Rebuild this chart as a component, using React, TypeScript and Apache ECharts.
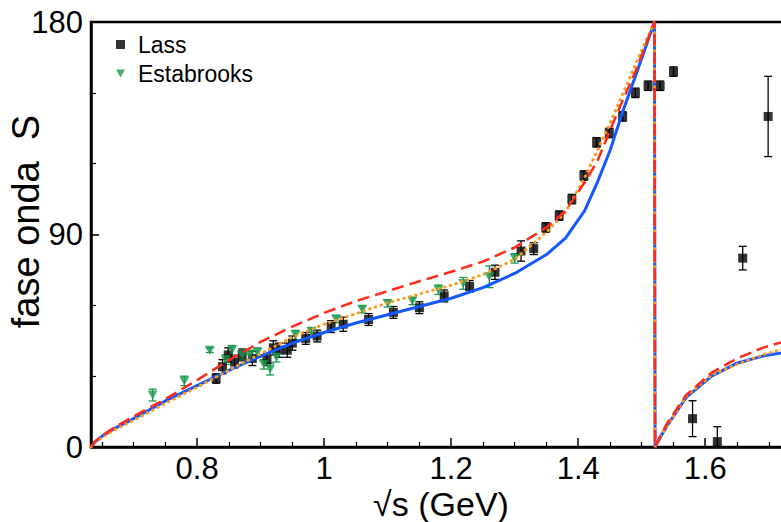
import React, { useEffect, useRef } from "react";
import * as echarts from "echarts";

// Model curves (shared x grid)
const curveX = [0.633, 0.64, 0.65, 0.67, 0.7, 0.75, 0.8, 0.85, 0.9, 0.95, 1.0, 1.05, 1.1, 1.15, 1.2, 1.25, 1.3, 1.35, 1.38, 1.41, 1.43, 1.45, 1.47, 1.49, 1.505, 1.52, 1.521, 1.53, 1.54, 1.57, 1.61, 1.65, 1.69, 1.735];
const blueY = [0, 2.3, 4.5, 7.8, 12, 19.5, 26, 32.5, 38.5, 44, 48.5, 52.5, 56, 59.5, 63, 67.5, 73.5, 81.5, 88.5, 100, 112, 125.5, 142, 157, 168.5, 180, 0, 4.5, 9, 21, 30, 35.5, 38.5, 40.5];
const orangeY = [0, 2, 4, 7.2, 11.3, 18.5, 25.3, 32.5, 39.5, 46.5, 52, 56.5, 61, 64.8, 68.5, 73, 79.5, 91, 99.5, 114, 125.5, 137, 149.5, 162, 171, 180, 0, 4.5, 9, 21.5, 30.5, 35, 39, 42.5];
const redY = [0, 2.5, 4.8, 8.3, 13, 20.3, 28.3, 36.8, 44.5, 51, 56.8, 61.8, 66, 70.2, 74.2, 78.5, 84.5, 93, 100, 112, 121, 134, 146.8, 159, 169.5, 180, 0, 5, 10, 22, 31.5, 37.5, 42, 45.5];

// LASS data
const lassX = [0.83, 0.84, 0.849, 0.859, 0.871, 0.887, 0.91, 0.92, 0.929, 0.942, 0.95, 0.971, 0.989, 1.011, 1.03, 1.07, 1.109, 1.15, 1.189, 1.229, 1.269, 1.31, 1.33, 1.349, 1.37, 1.39, 1.409, 1.429, 1.449, 1.47, 1.49, 1.51, 1.529, 1.55, 1.58, 1.619, 1.659, 1.699];
const lassY = [29, 34, 39, 36, 39, 37.5, 37, 42, 41, 41, 44, 46, 47, 51, 52, 54, 57, 59, 64, 68, 74, 83, 84, 93, 98, 105, 115, 129, 133, 140, 150, 153, 153, 159, 12, 2.3, 80, 140];
const lassErr = [2, 3, 3, 2.5, 2.5, 3, 2.5, 3, 3, 3, 3, 2.5, 2.5, 2.5, 3, 2.5, 2.5, 2.5, 2.5, 2.5, 3, 4.3, 2.5, 2, 2, 2, 2, 2, 2, 2, 2, 2, 2, 2, 7.6, 6.3, 5, 17];

// Estabrooks data
const estX = [0.73, 0.78, 0.82, 0.845, 0.855, 0.871, 0.883, 0.895, 0.905, 0.915, 0.925, 0.955, 0.98, 1.019, 1.06, 1.1, 1.139, 1.18, 1.219, 1.26, 1.3];
const estY = [22, 28, 41, 37, 41, 39, 39, 40, 35, 33, 38, 47.4, 49, 54.2, 58.3, 60.8, 61.8, 66.6, 69.3, 72.1, 79.9];
const estErr = [2.5, 2, 1, 2, 2, 2, 2, 2, 2, 2.5, 2, 2, 1.5, 1.5, 1.5, 1.5, 1.5, 2, 2.5, 4.6, 2];

// Axis ticks
const xLabelValues = [0.8, 1, 1.2, 1.4, 1.6];
const xMinorValues = [0.65, 0.7, 0.75, 0.85, 0.9, 0.95, 1.05, 1.1, 1.15, 1.25, 1.3, 1.35, 1.45, 1.5, 1.55, 1.65, 1.7];

const FONT = "'Liberation Sans', Arial, Helvetica, sans-serif";
const TRI = "path://M0,0L10,0L5,8.66Z";

function errorBars(xs: number[], ys: number[], es: number[], color: string, z: number) {
  return {
    type: "custom",
    z,
    clip: true,
    silent: true,
    data: xs.map((x, i) => [x, ys[i], es[i]]),
    encode: { x: 0, y: 1 },
    renderItem: (params: any, api: any) => {
      const x = api.value(0);
      const y = api.value(1);
      const e = api.value(2);
      const top = api.coord([x, y + e]);
      const bot = api.coord([x, y - e]);
      const w = 4;
      const style = { stroke: color, lineWidth: 1.3 };
      return {
        type: "group",
        children: [
          { type: "line", shape: { x1: top[0], y1: top[1], x2: bot[0], y2: bot[1] }, style },
          { type: "line", shape: { x1: top[0] - w, y1: top[1], x2: top[0] + w, y2: top[1] }, style },
          { type: "line", shape: { x1: bot[0] - w, y1: bot[1], x2: bot[0] + w, y2: bot[1] }, style },
        ],
      };
    },
  };
}

export default function App() {
  const ref = useRef<HTMLDivElement>(null);
  useEffect(() => {
    const chart = echarts.init(ref.current!, null, { renderer: "svg" });
    const lineOf = (ys: number[]) => curveX.map((x, i) => [x, ys[i]]);
    const option: any = {
      animation: false,
      backgroundColor: "#fff",
      grid: {
        left: 91,
        right: -10,
        top: 22,
        bottom: 75,
        containLabel: false,
        outerBoundsMode: "none",
        show: true,
        borderColor: "#000",
        borderWidth: 2.5,
        backgroundColor: "transparent",
      },
      legend: {
        data: [
          { name: "Lass", icon: "rect" },
          { name: "Estabrooks", icon: TRI },
        ],
        orient: "vertical",
        left: 111,
        top: 28,
        itemWidth: 9,
        itemHeight: 9,
        itemGap: 6,
        selectedMode: false,
        textStyle: { fontSize: 23, fontFamily: FONT, color: "#000", padding: [0, 0, 0, 8] },
      },
      xAxis: [
        {
          type: "value",
          min: 0.633,
          max: 1.735,
          position: "bottom",
          name: "√s (GeV)",
          nameLocation: "middle",
          nameGap: 40,
          nameMoveOverlap: false,
          nameTextStyle: { fontSize: 34, lineHeight: 34, fontFamily: FONT, color: "#000" },
          axisLine: { show: true, lineStyle: { color: "#000", width: 2.5 } },
          axisTick: { show: true, inside: true, length: 9, customValues: xLabelValues, lineStyle: { color: "#000", width: 1.5 } },
          axisLabel: {
            customValues: xLabelValues,
            fontSize: 31,
            lineHeight: 31,
            fontFamily: FONT,
            color: "#000",
            margin: 6,
            formatter: (v: number) => String(+v.toFixed(2)),
          },
          splitLine: { show: false },
        },
        {
          type: "value",
          min: 0.633,
          max: 1.735,
          position: "bottom",
          gridIndex: 0,
          axisLine: { show: false },
          axisTick: { show: true, inside: true, length: 5, customValues: xMinorValues, lineStyle: { color: "#000", width: 1.2 } },
          axisLabel: { show: false },
          splitLine: { show: false },
        },
      ],
      yAxis: {
        type: "value",
        min: 0,
        max: 180,
        interval: 90,
        name: "fase onda  S",
        nameLocation: "middle",
        nameGap: 46,
        nameMoveOverlap: false,
        nameTextStyle: { fontSize: 38, fontFamily: FONT, color: "#000", padding: [0, 0, 0, 26] },
        axisLine: { show: true, lineStyle: { color: "#000", width: 2.5 } },
        axisTick: { show: true, inside: true, length: 8, lineStyle: { color: "#000", width: 1.5 } },
        minorTick: { show: true, splitNumber: 3, length: 5, lineStyle: { color: "#000", width: 1.2 } },
        axisLabel: { fontSize: 31, fontFamily: FONT, color: "#000", margin: 8 },
        splitLine: { show: false },
        minorSplitLine: { show: false },
      },
      series: [
        errorBars(lassX, lassY, lassErr, "#000", 2),
        errorBars(estX, estY, estErr, "#1a9850", 2),
        {
          name: "Lass",
          type: "scatter",
          z: 3,
          symbol: "rect",
          symbolSize: 9,
          itemStyle: { color: "#000" },
          data: lassX.map((x, i) => [x, lassY[i]]),
        },
        {
          name: "Estabrooks",
          type: "scatter",
          z: 3,
          symbol: TRI,
          symbolSize: [10, 9],
          itemStyle: { color: "#1a9850" },
          data: estX.map((x, i) => [x, estY[i]]),
        },
        {
          name: "blue",
          type: "line",
          z: 4,
          showSymbol: false,
          symbol: "none",
          smooth: false,
          lineStyle: { color: "#1558ff", width: 3 },
          data: lineOf(blueY),
        },
        {
          name: "orange",
          type: "line",
          z: 5,
          showSymbol: false,
          symbol: "none",
          smooth: false,
          lineStyle: { color: "#ff9a1a", width: 3, type: [0.5, 5.5], cap: "round" },
          data: lineOf(orangeY),
        },
        {
          name: "red",
          type: "line",
          z: 6,
          showSymbol: false,
          symbol: "none",
          smooth: false,
          lineStyle: { color: "#ff2a1a", width: 2.5, type: [12, 6] },
          data: lineOf(redY),
        },
      ],
    };
    chart.setOption(option);
    return () => chart.dispose();
  }, []);
  return <div ref={ref} style={{ position: "absolute", left: 0, top: 0, width: 781, height: 522 }} />;
}
